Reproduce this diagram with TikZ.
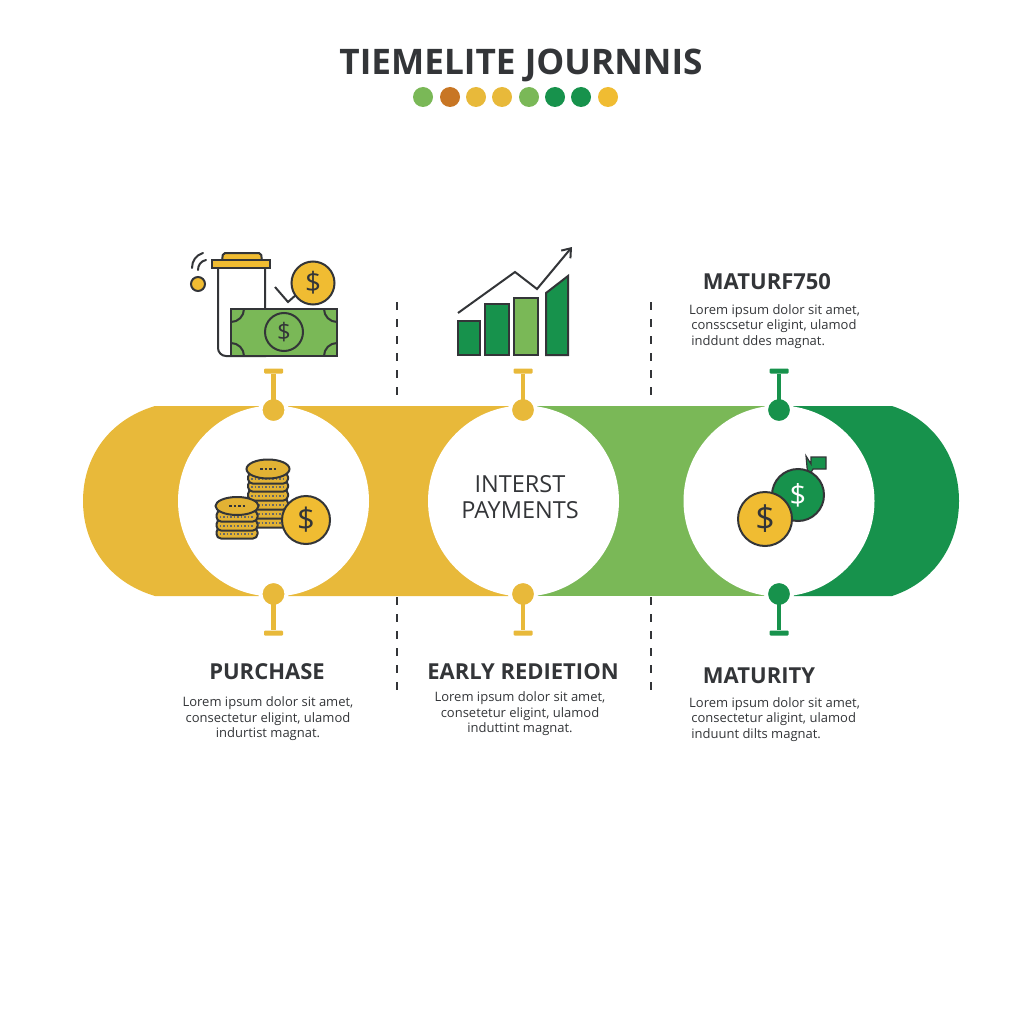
\documentclass[tikz,border=0pt]{standalone}
\usepackage{fontspec}
\setmainfont{Open Sans}
\usepackage{xcolor}
\definecolor{tlyellow}{RGB}{232,185,58}
\definecolor{tlcoin}{RGB}{240,188,50}
\definecolor{tlstack}{RGB}{226,178,52}
\definecolor{tllight}{RGB}{122,184,87}
\definecolor{tldark}{RGB}{23,146,76}
\definecolor{tlbrown}{RGB}{200,118,36}
\definecolor{tlink}{RGB}{51,53,56}
\usetikzlibrary{arrows.meta,positioning,shapes.geometric}
\tikzset{
  heading/.style={font=\bfseries\fontsize{22}{24}\selectfont,text=tlink,inner sep=0pt},
  blurb/.style={font=\fontsize{13}{15.6}\selectfont,text=tlink,inner sep=0pt},
  hole/.style={circle,fill=white,minimum size=191pt,inner sep=0pt},
  pin/.style={circle,fill=#1,draw=white,line width=4pt,minimum size=26pt,inner sep=0pt},
  pincap/.style={fill=#1,rounded corners=1pt,minimum width=19pt,minimum height=5pt,inner sep=0pt},
  titledot/.style={circle,fill=#1,minimum size=20pt,inner sep=0pt},
  divider/.style={draw=tlink,line width=2.2pt,dash pattern=on 8pt off 9pt},
  outline/.style={draw=tlink,line width=2pt},
  coin/.style={circle,fill=tlcoin,draw=tlink,line width=2pt,inner sep=0pt,text=tlink,minimum size=#1},
  layer/.style={fill=tlstack,draw=tlink,line width=2pt,rounded corners=4.5pt,minimum height=11pt,inner sep=0pt},
  disc/.style={ellipse,fill=tlstack,draw=tlink,line width=2pt,inner sep=0pt},
  ridge/.style={tlink!75,line width=1.4pt,dash pattern=on 1.5pt off 2pt},
}
\begin{document}
\begin{tikzpicture}[x=1pt,y=-1pt]
\useasboundingbox (0,0) rectangle (1024,1024);
\node[font=\bfseries\fontsize{35.2}{40}\selectfont,text=tlink,inner sep=0pt,anchor=base] (title) at (521,74.5) {TIEMELITE JOURNNIS};
\foreach \name/\x/\col in {a/423/tllight,b/450/tlbrown,c/476/tlyellow,d/502/tlyellow,e/529/tllight,f/555/tldark,g/581/tldark,h/608/tlcoin}
  \node[titledot=\col] (dot\name) at (\x,97) {};

\fill[tlyellow] (155,406) .. controls (108,420) and (83,458) .. (83,501) .. controls (83,544) and (108,582) .. (155,596) -- (523,596) -- (523,406) -- cycle;
\fill[tllight] (523,406) rectangle (779,596);
\fill[tldark] (779,406) -- (892,406) .. controls (935,420) and (959,458) .. (959,501) .. controls (959,544) and (935,582) .. (892,596) -- (779,596) -- cycle;

\node[hole] (first) at (273.5,501) {};
\node[hole] (second) at (523.5,501) {};
\node[hole] (third) at (779,501) {};

\foreach \name/\x/\col in {a/273.5/tlyellow,b/523/tlyellow,c/779/tldark}{
  \node[pin=\col] (top\name) at (\x,410) {};
  \node[pin=\col] (bot\name) at (\x,594) {};
  \node[pincap=\col] (topcap\name) at (\x,371) {};
  \node[pincap=\col] (botcap\name) at (\x,633) {};
  \draw[\col,line width=4.5pt] (top\name.center) -- (topcap\name);
  \draw[\col,line width=4.5pt] (bot\name.center) -- (botcap\name);
}

\coordinate (diva) at (397,302);
\coordinate (divb) at (397,400);
\coordinate (divc) at (397,597);
\coordinate (divd) at (397,692);
\coordinate (dive) at (651,302);
\coordinate (divf) at (651,400);
\coordinate (divg) at (651,597);
\coordinate (divh) at (651,692);
\draw[divider] (diva) -- (divb);
\draw[divider] (divc) -- (divd);
\draw[divider] (dive) -- (divf);
\draw[divider] (divg) -- (divh);

\node[font=\fontsize{23.5}{26}\selectfont,text=tlink,align=center,inner sep=0pt] (interest) at (520,497) {INTERST\\PAYMENTS};

\node[heading] (matur) at (767,282) {MATURF750};
\node[blurb,align=left,anchor=north west] (maturtext) at (689,304) {Lorem ipsum dolor sit amet,\\[0pt]\,consscsetur eligint, ulamod\\[0pt]\,inddunt ddes magnat.};
\node[heading] (purchase) at (267,672) {PURCHASE};
\node[blurb,align=center,anchor=north] (purchasetext) at (268,696.5) {Lorem ipsum dolor sit amet,\\consectetur eligint, ulamod\\indurtist magnat.};
\node[heading] (early) at (523,672) {EARLY REDIETION};
\node[blurb,align=center,anchor=north] (earlytext) at (520,691.5) {Lorem ipsum dolor sit amet,\\consetetur eligint, ulamod\\induttint magnat.};
\node[heading] (maturity) at (759,676) {MATURITY};
\node[blurb,align=left,anchor=north west] (maturitytext) at (689,697) {Lorem ipsum dolor sit amet,\\[0pt]\,consectetur aligint, ulamod\\[0pt]\,induunt dilts magnat.};

% purchase icon
\draw[outline,fill=white] (218,268) -- (218,348) arc[start angle=180,end angle=90,radius=8] -- (240,356) -- (265,356) -- (265,268);
\draw[outline,fill=tlcoin,rounded corners=2pt] (222,261) -- (223,253) -- (261,253) -- (262,261) -- cycle;
\draw[outline,fill=tlcoin] (212,260) rectangle (270,268);
\draw[outline,fill=tllight] (231,309) rectangle (337,356);
\begin{scope}
\clip (231,309) rectangle (337,356);
\foreach \x/\y in {231/309,337/309,231/356,337/356}
  \draw[outline] (\x,\y) circle[radius=13];
\end{scope}
\node[coin=38pt,fill=tllight,font=\fontsize{24}{24}\selectfont] (billcoin) at (284,332) {\$};
\draw[outline,fill=none] (275,287) -- (288,302) -- (297,294);
\node[coin=43pt,font=\fontsize{28}{28}\selectfont] (topcoin) at (313,283) {\$};
\node[coin=14pt] (signal) at (198,284) {};
\draw[outline,line cap=round] (192,268) .. controls (192,261) and (196,255) .. (203,253);
\draw[outline,line cap=round] (198,270) .. controls (198,265) and (201,261) .. (206,260);

% chart icon
\draw[outline,fill=tldark] (458,321) rectangle (480,355);
\draw[outline,fill=tldark] (485,304) rectangle (509,355);
\draw[outline,fill=tllight] (514,298) rectangle (538,355);
\draw[outline,fill=tldark] (546,293) -- (568,276) -- (568,355) -- (546,355) -- cycle;
\coordinate (trenda) at (458,313);
\coordinate (trendb) at (515,272);
\coordinate (trendc) at (537,289);
\coordinate (trendd) at (572,247);
\draw[outline,-{Straight Barb[length=8pt,width=12pt]}] (trenda) -- (trendb) -- (trendc) -- (trendd);

% stacked coins
\foreach \y in {522,513,504,495,486,478}{
  \node[layer,minimum width=40pt] (big\y) at (268,\y) {};
  \draw[ridge] (big\y.west) ++(4,1) -- ++(32,0);
}
\node[disc,minimum width=43pt,minimum height=19pt] (bigtop) at (268,469) {};
\draw[tlink,line width=2.5pt,dotted] (260,469) -- (277,469);
\foreach \y in {533,525,516}{
  \node[layer,minimum width=41pt] (small\y) at (237,\y) {};
  \draw[ridge] (small\y.west) ++(4,1) -- ++(33,0);
}
\node[disc,minimum width=43pt,minimum height=18pt] (smalltop) at (237,506) {};
\draw[tlink,line width=2.5pt,dotted] (229,506) -- (245,506);
\node[coin=48pt,font=\fontsize{31}{31}\selectfont] (stackcoin) at (306,520) {\$};

% maturity coins
\draw[outline,line width=1.2pt,fill=tldark] (806,456) -- (811,464) -- (811,457) -- (826,457) -- (826,469) -- (813,469) -- (808,478) -- cycle;
\node[coin=52pt,fill=tldark,text=white,font=\fontsize{29}{29}\selectfont] (greencoin) at (798,495) {\$};
\node[coin=54pt,font=\fontsize{34}{34}\selectfont] (yellowcoin) at (765,519) {\$};
\end{tikzpicture}
\end{document}
